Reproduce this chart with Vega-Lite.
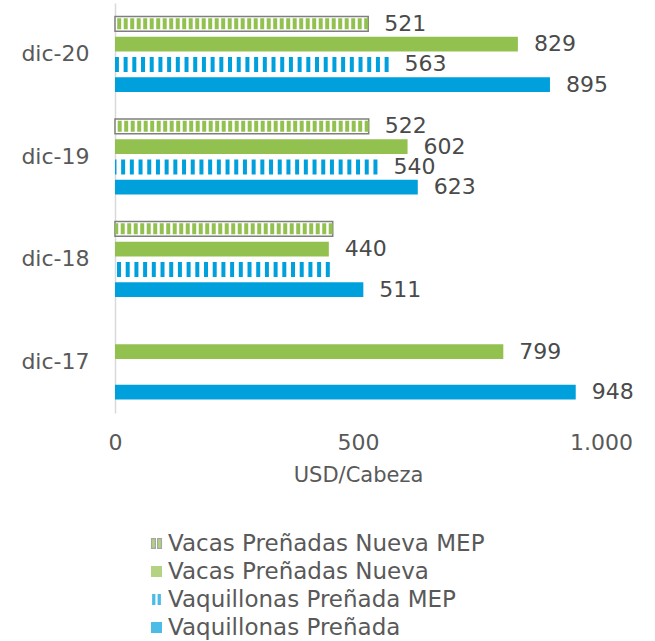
{
  "$schema": "https://vega.github.io/schema/vega-lite/v6.json",
  "width": 486,
  "height": 410,
  "autosize": "none",
  "padding": {"left": 115, "top": 3, "right": 54, "bottom": 228},
  "background": "white",
  "config": {
    "font": "DejaVu Sans",
    "view": {"stroke": null},
    "axis": {"grid": false, "ticks": false, "tickSize": 0, "labelColor": "#595959", "labelFontSize": 22, "titleColor": "#595959", "titleFontWeight": "normal"},
    "axisX": {"domain": false, "labelPadding": 19, "titleFontSize": 21, "titlePadding": 11, "labelFlush": false},
    "axisY": {"domainColor": "#d9d9d9", "domainWidth": 1.5, "labelPadding": 26, "title": null},
    "legend": {"orient": "none", "legendX": 30, "legendY": 529, "title": null, "labelFontSize": 23, "labelColor": "#595959", "labelLimit": 600, "symbolSize": 121, "rowPadding": 4, "labelOffset": 0, "padding": 0, "symbolStrokeWidth": 1.2}
  },
  "data": {
    "values": [
      {"periodo": "dic-20", "serie": "Vacas Preñadas Nueva MEP", "valor": 521},
      {"periodo": "dic-20", "serie": "Vacas Preñadas Nueva", "valor": 829},
      {"periodo": "dic-20", "serie": "Vaquillonas Preñada MEP", "valor": 563},
      {"periodo": "dic-20", "serie": "Vaquillonas Preñada", "valor": 895},
      {"periodo": "dic-19", "serie": "Vacas Preñadas Nueva MEP", "valor": 522},
      {"periodo": "dic-19", "serie": "Vacas Preñadas Nueva", "valor": 602},
      {"periodo": "dic-19", "serie": "Vaquillonas Preñada MEP", "valor": 540},
      {"periodo": "dic-19", "serie": "Vaquillonas Preñada", "valor": 623},
      {"periodo": "dic-18", "serie": "Vacas Preñadas Nueva MEP", "valor": 448},
      {"periodo": "dic-18", "serie": "Vacas Preñadas Nueva", "valor": 440},
      {"periodo": "dic-18", "serie": "Vaquillonas Preñada MEP", "valor": 442},
      {"periodo": "dic-18", "serie": "Vaquillonas Preñada", "valor": 511},
      {"periodo": "dic-17", "serie": "Vacas Preñadas Nueva", "valor": 799},
      {"periodo": "dic-17", "serie": "Vaquillonas Preñada", "valor": 948}
    ]
  },
  "encoding": {
    "y": {"field": "periodo", "type": "nominal", "sort": ["dic-20", "dic-19", "dic-18", "dic-17"], "scale": {"paddingInner": 0, "paddingOuter": 0}},
    "yOffset": {"field": "serie", "type": "nominal", "sort": ["Vacas Preñadas Nueva MEP", "Vacas Preñadas Nueva", "Vaquillonas Preñada MEP", "Vaquillonas Preñada"], "scale": {"paddingInner": 0.27, "paddingOuter": 0.66}}
  },
  "layer": [
    {
      "transform": [{"filter": "indexof(datum.serie, 'MEP') < 0"}],
      "mark": {"type": "bar"},
      "encoding": {
        "x": {"field": "valor", "type": "quantitative", "title": "USD/Cabeza", "scale": {"domain": [0, 1000], "nice": false}, "axis": {"values": [0, 500, 1000], "labelExpr": "replace(datum.label, ',', '.')"}},
        "color": {"field": "serie", "type": "nominal", "scale": {"domain": ["Vacas Preñadas Nueva MEP", "Vacas Preñadas Nueva", "Vaquillonas Preñada MEP", "Vaquillonas Preñada"], "range": ["#93C150", "#93C150", "#00A0DC", "#00A0DC"]}}
      }
    },
    {
      "transform": [{"filter": "datum.serie === 'Vacas Preñadas Nueva MEP'"}],
      "mark": {"type": "bar", "fill": "white", "stroke": "#7f7f7f", "strokeWidth": 1.5},
      "encoding": {
        "x": {"field": "valor", "type": "quantitative"}
      }
    },
    {
      "transform": [{"filter": "datum.serie === 'Vacas Preñadas Nueva MEP'"}],
      "mark": {"type": "rule", "color": "#93C150", "strokeWidth": 11, "strokeDash": [4, 2.5]},
      "encoding": {
        "x": {"field": "valor", "type": "quantitative"}
      }
    },
    {
      "transform": [{"filter": "datum.serie === 'Vaquillonas Preñada MEP'"}],
      "mark": {"type": "rule", "color": "#00A0DC", "strokeWidth": 15, "strokeDash": [4, 4.7]},
      "encoding": {
        "x": {"field": "valor", "type": "quantitative"}
      }
    },
    {
      "transform": [{"filter": "!(datum.periodo === 'dic-18' && indexof(datum.serie, 'MEP') >= 0)"}],
      "mark": {"type": "text", "align": "left", "baseline": "middle", "dx": 16, "fontSize": 22, "color": "#4a4a4a"},
      "encoding": {
        "x": {"field": "valor", "type": "quantitative"},
        "text": {"field": "valor", "type": "quantitative", "format": "d"}
      }
    },
    {
      "transform": [{"filter": "datum.valor < 0"}],
      "mark": {"type": "point", "filled": true},
      "encoding": {
        "color": {"field": "serie", "type": "nominal"},
        "shape": {"field": "serie", "type": "nominal", "scale": {"domain": ["Vacas Preñadas Nueva MEP", "Vacas Preñadas Nueva", "Vaquillonas Preñada MEP", "Vaquillonas Preñada"], "range": ["M-0.9,-0.9H-0.2V0.9H-0.9Z M0.2,-0.9H0.9V0.9H0.2Z", "square", "M-0.8,-1H-0.2V1H-0.8Z M0.2,-1H0.8V1H0.2Z", "square"]}},
        "stroke": {"field": "serie", "type": "nominal", "scale": {"domain": ["Vacas Preñadas Nueva MEP", "Vacas Preñadas Nueva", "Vaquillonas Preñada MEP", "Vaquillonas Preñada"], "range": ["#7f7f7f", "transparent", "transparent", "transparent"]}}
      }
    }
  ]
}
